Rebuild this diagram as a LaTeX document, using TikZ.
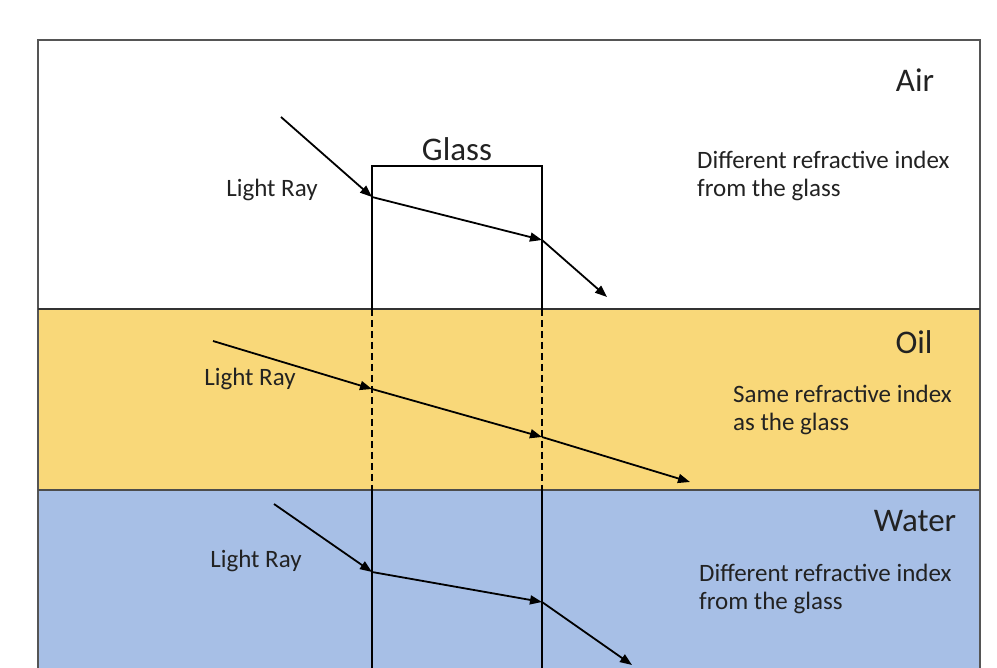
\documentclass[tikz,border=0pt]{standalone}
\usepackage{fontspec}
\setmainfont{Carlito}
\usetikzlibrary{arrows.meta}
\definecolor{oilc}{HTML}{F9D879}
\definecolor{waterc}{HTML}{A7BFE6}
\definecolor{framec}{HTML}{555555}
\definecolor{txt}{HTML}{222222}
\tikzset{
  ray/.style={line width=1.8pt, -{Triangle[length=12pt,width=9pt]}},
  glassline/.style={line width=1.6pt, draw=black},
  lbl/.style={inner sep=0pt, text=txt, font=\fontsize{25}{29}\selectfont},
  big/.style={inner sep=0pt, text=txt, font=\fontsize{33}{38}\selectfont},
  desc/.style={inner sep=0pt, text=txt, align=left, anchor=west, font=\fontsize{25}{28.5}\selectfont},
}
\begin{document}
\begin{tikzpicture}[x=1pt,y=-1pt]
\useasboundingbox (0,0) rectangle (997,668);
% bands
\fill[oilc] (38,309) rectangle (980,490);
\fill[waterc] (38,490) rectangle (980,670);
\draw[framec, line width=1.5pt] (38,670) -- (38,40) -- (980,40) -- (980,670);
\draw[black!80, line width=1.3pt] (38,309) -- (980,309);
\draw[black!70, line width=1.3pt] (38,490) -- (980,490);
% glass block
\coordinate (gtl) at (372,166);
\coordinate (gtr) at (542,166);
\coordinate (gl1) at (372,309);
\coordinate (gr1) at (542,309);
\coordinate (gl2) at (372,490);
\coordinate (gr2) at (542,490);
\coordinate (gl3) at (372,670);
\coordinate (gr3) at (542,670);
\draw[glassline] (gl1) -- (gtl) -- (gtr) -- (gr1);
\draw[glassline, dash pattern=on 7pt off 4pt] (gl1) -- (gl2);
\draw[glassline, dash pattern=on 7pt off 4pt] (gr1) -- (gr2);
\draw[glassline] (gl2) -- (gl3);
\draw[glassline] (gr2) -- (gr3);
% air ray
\coordinate (a0) at (281,117);
\coordinate (a1) at (372,197);
\coordinate (a2) at (542,240);
\coordinate (a3) at (607,297);
\draw[ray] (a0) -- (a1);
\draw[ray] (a1) -- (a2);
\draw[ray] (a2) -- (a3);
% oil ray
\coordinate (o0) at (213,341);
\coordinate (o1) at (372,389);
\coordinate (o2) at (542,437);
\coordinate (o3) at (690,482);
\draw[ray] (o0) -- (o1);
\draw[ray] (o1) -- (o2);
\draw[ray] (o2) -- (o3);
% water ray
\coordinate (w0) at (274,504);
\coordinate (w1) at (372,572);
\coordinate (w2) at (542,602);
\coordinate (w3) at (632,665);
\draw[ray] (w0) -- (w1);
\draw[ray] (w1) -- (w2);
\draw[ray] (w2) -- (w3);
% labels
\node[big] (glass) at (457,149) {Glass};
\node[lbl] (lra) at (272,190) {Light Ray};
\node[lbl] (lro) at (250,379) {Light Ray};
\node[lbl] (lrw) at (256,561) {Light Ray};
\node[big] (air) at (915,80) {Air};
\node[big] (oil) at (914,342) {Oil};
\node[big] (water) at (915,521) {Water};
\node[desc] (da) at (697,176) {Different refractive index\\from the glass};
\node[desc] (do) at (733,410) {Same refractive index\\as the glass};
\node[desc] (dw) at (699,589) {Different refractive index\\from the glass};
\end{tikzpicture}
\end{document}
